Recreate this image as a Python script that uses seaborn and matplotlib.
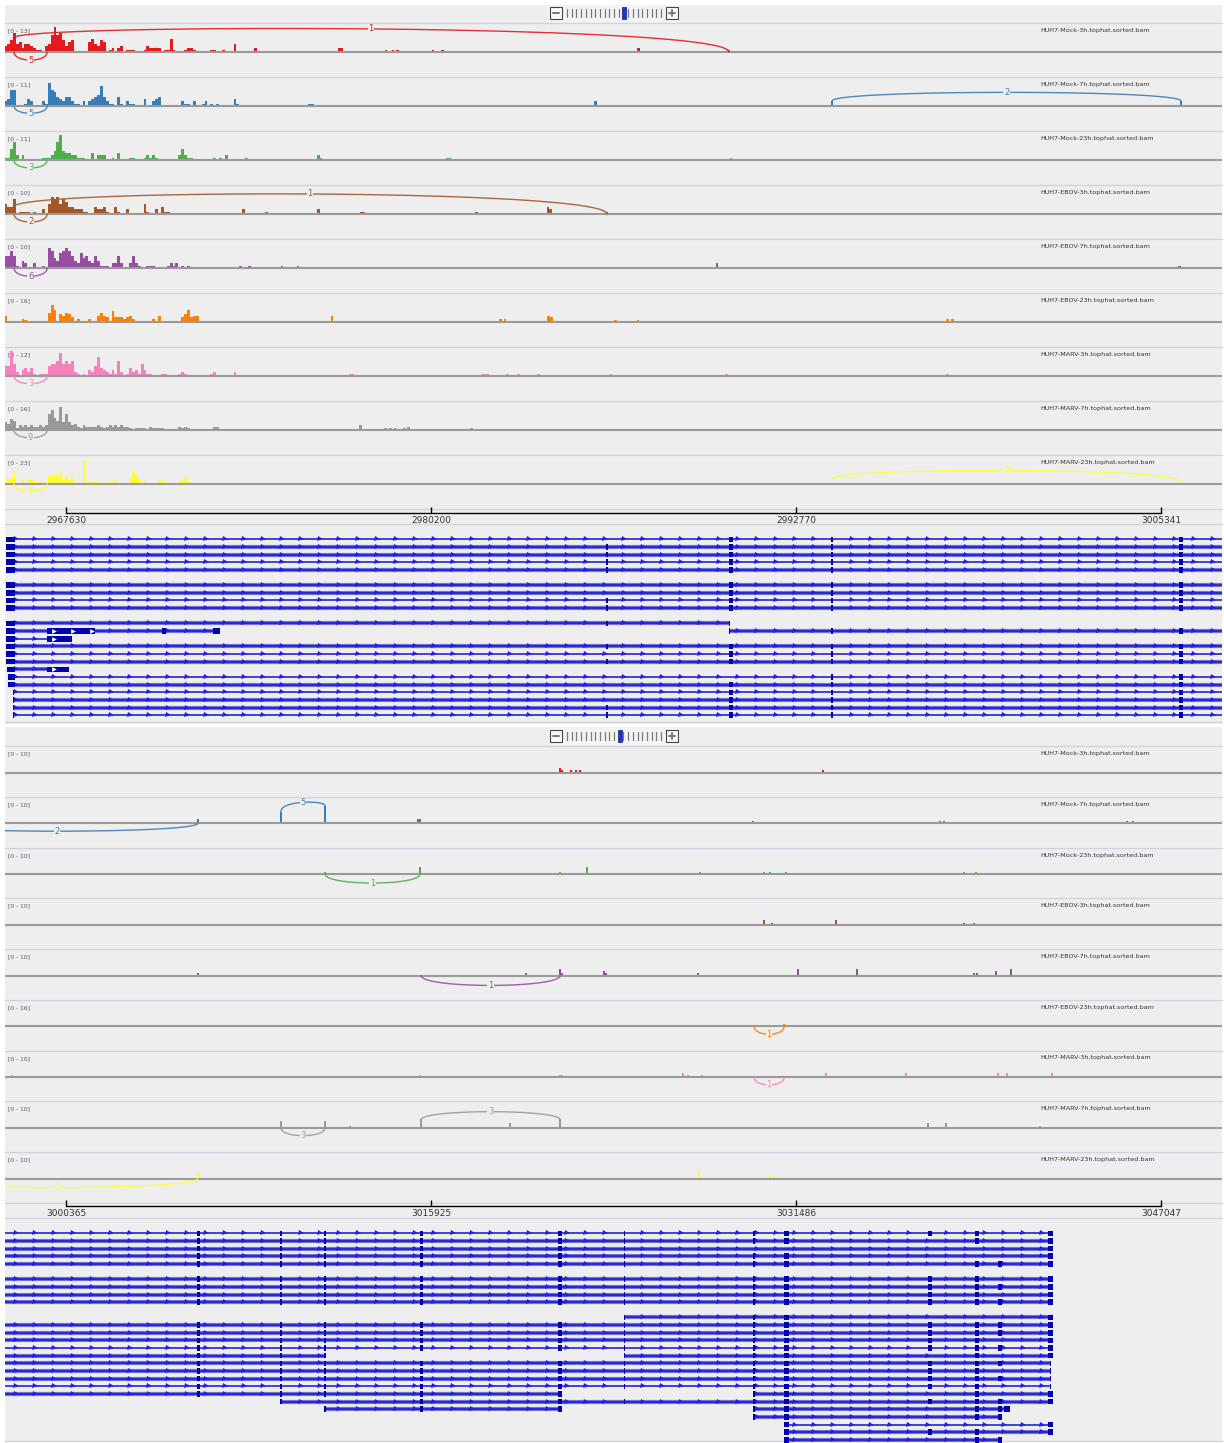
"""
Sashimi / couverture RNA-seq sur deux fenetres genomiques (vue type IGV)
"""
import numpy as np
import pandas as pd
import matplotlib
matplotlib.use("Agg")
import matplotlib.pyplot as plt
from matplotlib.patches import Rectangle
import seaborn as sns

sns.set_theme(style="white")
plt.rcParams["font.family"] = ["DejaVu Sans"]

# ----------------------------------------------------------
# 1) Donnees
# ----------------------------------------------------------
samples = ["HUH7-Mock-3h", "HUH7-Mock-7h", "HUH7-Mock-23h",
           "HUH7-EBOV-3h", "HUH7-EBOV-7h", "HUH7-EBOV-23h",
           "HUH7-MARV-3h", "HUH7-MARV-7h", "HUH7-MARV-23h"]
track_colors = ["#e41a1c", "#377eb8", "#4daf4a", "#a65628", "#984ea3",
                "#ff7f00", "#f781bf", "#999999", "#ffff33"]

top_ranges = [13, 11, 11, 10, 10, 16, 12, 16, 23]
bot_ranges = [10, 10, 10, 10, 10, 16, 10, 10, 10]

# fenetres (kb)
top_view = (2965.529, 3007.441)
bot_view = (2997.764, 3049.648)
top_ticks = [2967630, 2980200, 2992770, 3005341]
bot_ticks = [3000365, 3015925, 3031486, 3047047]

# couverture dense fenetre haute : bins de 0.1 kb a partir de 2965.5 kb
top_bin_start = 2965.5
top_bin_kb = 0.1
cov_mock3h = [3, 4, 6, 10, 4, 5, 2, 4, 4, 3, 2, 1, 1, 0, 3, 4, 9, 13, 9, 10,
              6, 3, 5, 6, 0, 0, 0, 0, 0, 5, 7, 4, 3, 6, 5, 0, 1, 2, 0, 2,
              3, 0, 1, 1, 1, 0, 0, 0, 1, 3, 2, 2, 2, 2, 0, 1, 1, 7, 1, 0,
              0, 0, 1, 2, 2, 1, 0, 0, 0, 0, 0, 1, 1, 0, 0, 1, 0, 0, 0, 4,
              0, 0, 0, 0, 0]
cov_mock7h = [2, 3, 7, 7, 0, 0, 0, 1, 3, 2, 0, 0, 0, 2, 1, 10, 7, 6, 4, 3,
              2, 4, 4, 2, 1, 1, 0, 2, 0, 2, 3, 4, 5, 9, 4, 2, 1, 1, 0, 4,
              1, 0, 2, 1, 1, 0, 0, 0, 3, 0, 0, 2, 3, 4, 0, 0, 0, 0, 0, 0,
              0, 2, 1, 1, 0, 2, 0, 0, 1, 2, 0, 1, 0, 1, 0, 0, 0, 0, 0, 3,
              1, 0, 0, 0, 0]
cov_mock23h = [1, 1, 5, 8, 2, 0, 2, 0, 0, 0, 0, 0, 0, 1, 1, 1, 2, 4, 8, 11,
               4, 3, 3, 2, 2, 1, 1, 1, 0, 0, 3, 0, 2, 2, 2, 0, 0, 1, 0, 3,
               0, 0, 0, 1, 1, 0, 0, 0, 1, 2, 1, 2, 1, 0, 0, 0, 0, 0, 0, 0,
               2, 5, 2, 1, 1, 0, 0, 0, 0, 0, 0, 0, 1, 0, 1, 0, 2, 0, 0, 0,
               0, 0, 0, 1, 0]
cov_ebov3h = [4, 3, 3, 6, 0, 1, 1, 1, 1, 0, 1, 0, 0, 2, 0, 4, 7, 6, 7, 4,
              6, 5, 3, 3, 2, 2, 2, 1, 1, 0, 0, 3, 2, 2, 3, 1, 0, 0, 3, 1,
              0, 0, 2, 0, 0, 0, 0, 0, 4, 1, 0, 0, 2, 0, 3, 1, 1, 0, 0, 0,
              0, 0, 0, 0, 0, 0, 0, 0, 0, 0, 0, 0, 0, 0, 0, 0, 0, 0, 0, 0,
              0, 0, 2, 0, 0]
cov_ebov7h = [5, 5, 7, 5, 1, 0, 3, 2, 0, 0, 2, 0, 0, 1, 0, 8, 7, 4, 3, 6,
              7, 8, 7, 5, 3, 2, 6, 4, 5, 3, 2, 5, 3, 1, 1, 1, 0, 2, 2, 5,
              2, 0, 0, 2, 5, 2, 1, 0, 0, 1, 1, 1, 0, 0, 0, 0, 1, 2, 1, 2,
              0, 1, 0, 1, 0, 0, 0, 0, 0, 0, 0, 0, 0, 0, 0, 0, 0, 0, 0, 0,
              0, 1, 0, 0, 1]
cov_ebov23h = [4, 0, 0, 0, 0, 0, 2, 1, 0, 0, 0, 0, 0, 0, 0, 6, 11, 8, 0, 5,
               4, 6, 5, 3, 0, 2, 0, 0, 0, 2, 0, 0, 4, 6, 4, 3, 0, 7, 3, 3,
               3, 2, 3, 4, 2, 0, 0, 0, 0, 0, 0, 2, 0, 4, 0, 0, 0, 0, 0, 0,
               0, 3, 5, 8, 3, 4, 4, 0, 0, 0, 0, 0, 0, 0, 0, 0, 0, 0, 0, 0,
               0, 0, 0, 0, 0]
cov_marv3h = [5, 5, 12, 6, 2, 0, 3, 4, 2, 4, 1, 0, 1, 1, 1, 5, 6, 6, 7, 11,
              6, 7, 6, 7, 2, 1, 0, 1, 0, 3, 2, 5, 9, 4, 3, 2, 1, 3, 1, 7,
              2, 0, 1, 4, 2, 3, 1, 6, 3, 1, 1, 0, 0, 0, 1, 1, 0, 0, 0, 0,
              1, 2, 1, 0, 0, 0, 0, 0, 0, 0, 0, 1, 2, 0, 0, 0, 0, 0, 0, 2,
              0, 0, 0, 0, 0]
cov_marv7h = [5, 4, 7, 6, 1, 3, 2, 3, 2, 3, 2, 2, 3, 2, 3, 10, 13, 8, 6, 15,
              5, 10, 5, 3, 4, 2, 1, 3, 2, 2, 2, 2, 3, 2, 1, 2, 3, 2, 3, 2,
              3, 2, 2, 1, 0, 1, 1, 1, 1, 0, 2, 1, 1, 1, 1, 0, 0, 0, 0, 0,
              2, 1, 2, 1, 0, 0, 0, 0, 0, 0, 0, 0, 2, 2, 0, 0, 0, 0, 0, 0,
              0, 0, 0, 0, 0]
cov_marv23h = [5, 5, 6, 12, 0, 0, 4, 0, 4, 5, 3, 2, 3, 1, 0, 8, 7, 9, 7, 11,
               5, 8, 4, 6, 1, 2, 1, 23, 1, 2, 3, 2, 2, 1, 1, 2, 1, 2, 3, 1,
               0, 0, 0, 5, 12, 8, 5, 0, 3, 0, 0, 0, 0, 3, 5, 2, 1, 0, 1, 1,
               3, 3, 6, 2, 1, 0, 1, 0, 0, 0, 0, 0, 0, 0, 1, 0, 1, 0, 0, 0,
               0, 0, 0, 0, 1]

# barres isolees fenetre haute (position kb, profondeur)
sp_top_mock3h = [(2974.17, 2), (2977.03, 2), (2977.13, 2), (2978.65, 1), (2978.89, 1),
                 (2979.06, 1), (2980.27, 1), (2980.61, 1), (2987.36, 2), (2990.45, 1)]
sp_top_mock7h = [(2976.03, 1), (2976.13, 1), (2985.85, 2), (2994.01, 2), (3006.03, 2)]
sp_top_mock23h = [(2976.31, 2), (2976.41, 1), (2980.75, 1), (2980.85, 1), (2990.53, 1)]
sp_top_ebov3h = [(2974.55, 1), (2976.34, 2), (2977.79, 1), (2977.89, 1), (2981.78, 1),
                 (2984.23, 3), (2984.33, 2), (2986.26, 1)]
sp_top_ebov7h = [(2975.07, 1), (2975.62, 1), (2990.05, 2), (3005.99, 1)]
sp_top_ebov23h = [(2976.79, 4), (2982.58, 2), (2982.75, 2), (2984.26, 4), (2984.36, 3),
                  (2986.54, 1), (2987.33, 1), (2998.00, 2), (2998.17, 2)]
sp_top_marv3h = [(2977.41, 1), (2977.51, 1), (2981.96, 1), (2982.06, 1), (2982.16, 1),
                 (2982.85, 1), (2983.20, 1), (2983.89, 1), (2986.40, 1), (2990.39, 1),
                 (2998.00, 1)]
sp_top_marv7h = [(2977.76, 3), (2978.62, 1), (2978.79, 1), (2978.96, 1), (2979.30, 1),
                 (2979.44, 2), (2981.61, 1)]
sp_top_marv23h = [(2975.17, 1), (2975.86, 1), (2979.13, 1), (2983.95, 1), (2986.95, 1),
                  (2994.01, 1)]

# barres isolees fenetre basse
sp_bot_mock3h = [(3021.43, 2), (3021.51, 1), (3021.89, 1), (3022.11, 1), (3022.28, 1),
                 (3032.64, 1)]
sp_bot_mock7h = [(3005.99, 2), (3009.53, 5), (3011.41, 8), (3015.37, 2), (3015.46, 2),
                 (3029.65, 1), (3037.63, 1), (3037.80, 1), (3045.60, 1), (3045.85, 1)]
sp_bot_mock23h = [(3011.41, 1), (3015.46, 3), (3021.43, 1), (3022.58, 3), (3027.39, 1),
                  (3030.12, 1), (3030.38, 1), (3031.06, 1), (3038.65, 1), (3039.16, 1)]
sp_bot_ebov3h = [(3030.12, 2), (3030.46, 1), (3033.19, 2), (3038.65, 1), (3039.07, 1)]
sp_bot_ebov7h = [(3005.99, 1), (3019.98, 1), (3021.43, 3), (3021.51, 1), (3023.30, 2),
                 (3023.39, 1), (3027.31, 1), (3031.57, 3), (3034.09, 3), (3039.07, 1),
                 (3039.20, 1), (3040.01, 2), (3040.65, 3)]
sp_bot_ebov23h = [(2998.06, 1), (2998.23, 1), (3030.98, 2)]
sp_bot_marv3h = [(2998.06, 1), (3015.46, 1), (3021.43, 1), (3021.51, 1), (3026.67, 2),
                 (3026.88, 1), (3027.48, 1), (3032.77, 2), (3036.18, 2), (3040.10, 2),
                 (3040.48, 2), (3042.40, 2)]
sp_bot_marv7h = [(3009.53, 3), (3011.41, 3), (3012.47, 1), (3015.50, 4), (3019.29, 2),
                 (3021.43, 4), (3037.11, 2), (3037.88, 2), (3041.89, 1)]
sp_bot_marv23h = [(3005.99, 3), (3027.35, 3), (3030.38, 1), (3030.55, 1)]

# jonctions : (piste, debut kb, fin kb, nb lectures, h debut, h fin, sommet)
# sommet negatif = arc sous la ligne de base
top_junctions = [
    (0, 2965.81, 2990.46, "1", 7.3, 0, 12),
    (0, 2965.84, 2966.98, "5", 0, 0, -4.2),
    (1, 2965.84, 2966.98, "5", 0, 0, -3.2),
    (1, 2994.01, 3006.03, "2", 2.2, 2.2, 6.0),
    (2, 2965.84, 2966.98, "3", 0, 0, -3.5),
    (3, 2965.81, 2986.26, "1", 2.8, 0, 8),
    (3, 2965.84, 2966.98, "2", 0, 0, -3.2),
    (4, 2965.84, 2966.98, "6", 0, 0, -3.3),
    (6, 2965.84, 2966.98, "3", 0, 0, -3.7),
    (7, 2965.84, 2966.98, "9", 0, 0, -5.0),
    (8, 2965.84, 2966.98, "8", 0, 0, -6.7),
    (8, 2994.01, 3006.03, "2", 4.6, 2.0, 12.5),
]
bot_junctions = [
    (1, 2993.97, 3005.99, "2", 0, 0, -3.6),
    (1, 3009.53, 3011.41, "5", 5.4, 8, 9.5),
    (2, 3011.41, 3015.46, "1", 0, 0, -4.1),
    (4, 3015.50, 3021.43, "1", 0, 0, -4.5),
    (5, 3029.70, 3030.98, "1", 0, 0, -5.8),
    (6, 3029.70, 3030.98, "1", 0, 0, -3.6),
    (7, 3009.53, 3011.41, "3", 0, 0, -3.6),
    (7, 3015.50, 3021.43, "3", 3.6, 3.6, 7.3),
    (8, 2993.97, 3005.99, "2", 0, 0, -4.1),
]

# exons (kb)
top_exons = {
    "T1": (2965.56, 2965.87), "T1b": (2965.60, 2965.87), "T1c": (2965.63, 2965.87),
    "T1d": (2965.80, 2965.84), "T2": (2966.98, 2968.63), "T2b": (2966.98, 2967.84),
    "T2c": (2966.98, 2967.73), "T3": (2970.94, 2971.07), "T4": (2972.69, 2972.93),
    "T5": (2986.21, 2986.31), "T6": (2990.46, 2990.60), "T6b": (2990.46, 2990.50),
    "T7": (2993.99, 2994.06), "T8": (3005.96, 3006.10),
}
bot_exons = {
    "B1": (3005.93, 3006.06), "B2": (3009.50, 3009.57), "B3": (3011.38, 3011.44),
    "B4": (3015.44, 3015.57), "B5": (3021.36, 3021.53), "B6": (3024.14, 3024.20),
    "B7": (3029.67, 3029.73), "B8": (3030.96, 3031.17), "B9": (3037.11, 3037.28),
    "B10": (3039.11, 3039.28), "B11": (3040.09, 3040.26), "B12": (3040.35, 3040.60),
    "B13": (3042.30, 3042.34), "B14": (3042.25, 3042.46),
}

# transcrits : (ligne, debut kb, fin kb, exons)
T_FULL = ["T1", "T6", "T7", "T8"]
T_FULL5 = ["T1", "T5", "T6", "T7", "T8"]
top_transcripts = [
    (0, 2965.56, 3008.0, T_FULL), (1, 2965.56, 3008.0, T_FULL5),
    (2, 2965.56, 3008.0, T_FULL5), (3, 2965.56, 3008.0, T_FULL5),
    (4, 2965.56, 3008.0, T_FULL5), (6, 2965.56, 3008.0, T_FULL),
    (7, 2965.56, 3008.0, T_FULL), (8, 2965.56, 3008.0, T_FULL5),
    (9, 2965.56, 3008.0, T_FULL5), (11, 2965.56, 2990.50, ["T1", "T5", "T6b"]),
    (12, 2965.56, 2972.93, ["T1", "T2", "T3", "T4"]),
    (12, 2990.46, 3008.0, ["T6b", "T7", "T8"]),
    (13, 2965.56, 2967.84, ["T1", "T2b"]), (14, 2965.56, 3008.0, T_FULL5),
    (15, 2965.56, 3008.0, T_FULL), (16, 2965.56, 3008.0, T_FULL5),
    (17, 2965.60, 2967.73, ["T1b", "T2c"]),
    (18, 2965.63, 3008.0, ["T1c", "T7", "T8"]),
    (19, 2965.63, 3008.0, ["T1c", "T6", "T7", "T8"]),
    (20, 2965.80, 3008.0, ["T1d", "T6", "T7", "T8"]),
    (21, 2965.80, 3008.0, ["T1d", "T6", "T7", "T8"]),
    (22, 2965.80, 3008.0, ["T1d", "T5", "T6", "T7", "T8"]),
    (23, 2965.80, 3008.0, ["T1d", "T5", "T6", "T7", "T8"]),
]

B_LEFT = ["B1", "B2", "B3", "B4", "B5", "B6"]
bot_transcripts = [
    (0, 2997.0, 3042.46, B_LEFT + ["B7", "B8", "B9", "B10", "B14"]),
    (1, 2997.0, 3042.46, B_LEFT + ["B7", "B8", "B10", "B14"]),
    (2, 2997.0, 3042.46, B_LEFT + ["B14"]),
    (3, 2997.0, 3042.46, B_LEFT + ["B7", "B8", "B14"]),
    (4, 2997.0, 3042.46, B_LEFT + ["B7", "B8", "B10", "B11", "B14"]),
    (6, 2997.0, 3042.46, B_LEFT + ["B7", "B8", "B9", "B10", "B14"]),
    (7, 2997.0, 3042.46, B_LEFT + ["B7", "B8", "B9", "B10", "B11", "B14"]),
    (8, 2997.0, 3042.46, B_LEFT + ["B7", "B8", "B9", "B10", "B14"]),
    (9, 2997.0, 3042.46, B_LEFT + ["B7", "B8", "B9", "B10", "B11", "B14"]),
    (11, 3024.14, 3042.46, ["B6", "B7", "B8", "B14"]),
    (12, 2997.0, 3042.46, B_LEFT + ["B7", "B8", "B9", "B10", "B11", "B14"]),
    (13, 2997.0, 3042.46, B_LEFT + ["B7", "B8", "B9", "B10", "B11", "B14"]),
    (14, 2997.0, 3042.46, B_LEFT + ["B7", "B8", "B9", "B10", "B14"]),
    (15, 2997.0, 3042.46, B_LEFT + ["B7", "B8", "B9", "B10", "B11", "B14"]),
    (16, 2997.0, 3011.44, ["B1", "B2", "B3"]),
    (16, 3024.14, 3042.46, ["B6", "B7", "B8", "B10", "B14"]),
    (17, 2997.0, 3042.34, B_LEFT + ["B7", "B8", "B9", "B10", "B11", "B13"]),
    (18, 2997.0, 3042.34, B_LEFT + ["B7", "B8", "B9", "B10", "B13"]),
    (19, 2997.0, 3042.34, B_LEFT + ["B7", "B8", "B9", "B10", "B11", "B13"]),
    (20, 2997.0, 3042.34, B_LEFT + ["B7", "B8", "B9", "B10", "B13"]),
    (21, 2997.0, 3021.53, ["B1", "B2", "B3", "B4", "B5"]),
    (21, 3029.67, 3042.46, ["B7", "B8", "B10", "B14"]),
    (22, 3009.50, 3042.46, ["B2", "B4", "B5", "B6", "B7", "B8", "B9", "B10", "B11", "B14"]),
    (23, 3011.38, 3021.53, ["B3", "B4", "B5"]),
    (23, 3029.67, 3040.60, ["B7", "B8", "B10", "B11", "B12"]),
    (24, 3029.67, 3040.26, ["B7", "B8", "B10", "B11"]),
    (25, 3030.96, 3042.46, ["B8", "B14"]),
    (26, 3030.96, 3042.46, ["B8", "B9", "B10", "B14"]),
    (27, 3030.98, 3040.26, ["B8", "B10", "B11"]),
]

top_dense = [cov_mock3h, cov_mock7h, cov_mock23h, cov_ebov3h, cov_ebov7h,
             cov_ebov23h, cov_marv3h, cov_marv7h, cov_marv23h]
top_sparse = [sp_top_mock3h, sp_top_mock7h, sp_top_mock23h, sp_top_ebov3h,
              sp_top_ebov7h, sp_top_ebov23h, sp_top_marv3h, sp_top_marv7h,
              sp_top_marv23h]
bot_sparse = [sp_bot_mock3h, sp_bot_mock7h, sp_bot_mock23h, sp_bot_ebov3h,
              sp_bot_ebov7h, sp_bot_ebov23h, sp_bot_marv3h, sp_bot_marv7h,
              sp_bot_marv23h]

# ----------------------------------------------------------
# 2) Mise en page (pixels)
# ----------------------------------------------------------
W, H = 1224, 1443
BG = "#eeeeee"
SEP = "#d2d2dc"
EXON = "#0000b2"

fig = plt.figure(figsize=(W / 100, H / 100), dpi=100)
fig.patch.set_facecolor("white")


def px_axes(x0, y0, x1, y1):
    ax = fig.add_axes([x0 / W, 1 - y1 / H, (x1 - x0) / W, (y1 - y0) / H])
    ax.patch.set_visible(False)
    return ax


bg = px_axes(0, 0, W, H)
bg.set_xlim(0, W)
bg.set_ylim(H, 0)
bg.axis("off")
bg.add_patch(Rectangle((5, 5), 1217, 719, facecolor=BG, edgecolor="none"))
bg.add_patch(Rectangle((5, 727), 1217, 714, facecolor=BG, edgecolor="none"))


def draw_widget(yc, slider_x):
    bg.add_patch(Rectangle((548, yc - 8), 132, 18, facecolor="#f3f3f3", edgecolor="none"))
    for bx in (550, 666):
        bg.add_patch(Rectangle((bx, yc - 6), 12, 12, facecolor="#f8f8f8",
                               edgecolor="#444444", lw=0.8))
        bg.plot([bx + 3, bx + 9], [yc, yc], color="#777777", lw=1.4)
    bg.plot([672, 672], [yc - 3, yc + 3], color="#777777", lw=1.4)
    for k in range(21):
        x = 567 + 4.7 * k
        if abs(x - slider_x) < 2.5:
            continue
        bg.plot([x, x], [yc - 4, yc + 4], color="#7a7a7a", lw=0.9)
    bg.add_patch(Rectangle((slider_x - 2, yc - 6), 4, 12, facecolor="#1535d5",
                           edgecolor="#0a1a80", lw=0.5))


def bezier(a, b, h0, h1, peak):
    c = (8 * peak - h0 - h1) / 6
    t = np.linspace(0, 1, 80)
    x = (1 - t) ** 3 * a + 3 * (1 - t) ** 2 * t * a + 3 * (1 - t) * t ** 2 * b + t ** 3 * b
    y = (1 - t) ** 3 * h0 + 3 * (1 - t) ** 2 * t * c + 3 * (1 - t) * t ** 2 * c + t ** 3 * h1
    return x, y


def draw_panel(view, y_head, track_y0, track_h, base_off, data_h, ranges,
               dense, sparse, bar_w, junctions, ruler_y, ticks, gene_box,
               transcripts, exons, dark_rows, widget_slider):
    kb_px = (view[1] - view[0]) / 1217.0
    draw_widget(y_head, widget_slider)

    # separateurs
    for i in range(10):
        y = track_y0 + track_h * i
        bg.plot([5, 1222], [y, y], color=SEP, lw=1.0)
    bg.plot([5, 1222], [gene_box[0], gene_box[0]], color=SEP, lw=1.0)
    bg.plot([5, 1222], [gene_box[1] - 2, gene_box[1] - 2], color=SEP, lw=1.0)

    for i in range(9):
        y_top = track_y0 + track_h * i
        color = track_colors[i]
        vmax = ranges[i]
        ax = px_axes(5, y_top, 1222, y_top + track_h)
        # couverture dense
        if dense is not None:
            vals = np.array(dense[i], dtype=float)
            edges = top_bin_start + np.arange(len(vals) + 1) * top_bin_kb
            df = pd.DataFrame({"pos": edges[:-1] + top_bin_kb / 2, "depth": vals})
            sns.histplot(data=df, x="pos", weights="depth", bins=edges.tolist(),
                         color=color, alpha=1, linewidth=0, element="bars", ax=ax)
        xs = [p for p, h in sparse[i]]
        hs = [h for p, h in sparse[i]]
        ax.bar(xs, hs, width=bar_w, color=color, linewidth=0)
        ax.axhline(0, color="#9a9a9a", lw=1.5, zorder=3)

        for (k, a, b, lab, h0, h1, peak) in junctions:
            if k != i:
                continue
            jx, jy = bezier(a, b, h0, h1, peak)
            ax.plot(jx, jy, color=color, lw=1.0, alpha=0.9, zorder=4)
            ax.text((a + b) / 2, peak, lab, ha="center", va="center", fontsize=6,
                    color=color, zorder=5,
                    bbox=dict(boxstyle="square,pad=0.08", fc=BG, ec="none"))

        ax.set_xlim(view)
        ax.set_ylim(-(track_h - base_off) / data_h * vmax, base_off / data_h * vmax)
        ax.axis("off")

        bg.text(8, y_top + 8, "[0 - %d]" % vmax, fontsize=4.3, color="#555555",
                ha="left", va="center")
        bg.text(1040, y_top + 7.5, samples[i] + ".tophat.sorted.bam", fontsize=4.6,
                color="#333333", ha="left", va="center")

    # regle
    rax = px_axes(5, ruler_y - 8, 1222, ruler_y)
    rax.set_xlim(view)
    rax.set_ylim(0, 1)
    for s in ("left", "right", "top"):
        rax.spines[s].set_visible(False)
    tk = [t / 1000 for t in ticks]
    rax.spines["bottom"].set_bounds(tk[0], tk[-1])
    rax.spines["bottom"].set_color("black")
    rax.spines["bottom"].set_linewidth(1.0)
    rax.set_xticks(tk)
    rax.set_xticklabels([str(t) for t in ticks])
    rax.set_yticks([])
    rax.tick_params(axis="x", direction="in", length=4, width=1, colors="black",
                    labelsize=6.5, labelcolor="#333333", pad=2, bottom=True)

    # transcrits
    gy0, gy1 = gene_box
    row0 = gy0 + 15.3
    sp = 7.65
    gax = px_axes(5, gy0, 1222, gy1)
    gax.set_xlim(view)
    gax.set_ylim((gy1 - row0) / sp, (gy0 - row0) / sp)
    gax.axis("off")
    spacing = 19 * kb_px
    chev_all = np.arange(view[0] + 0.6 * spacing, view[1], spacing)
    for (row, s, e, names) in transcripts:
        if row not in dark_rows:
            gax.hlines(row, s, e, color="#7373d6", lw=3.0, zorder=1)
        gax.hlines(row, s, e, color="#1414cc", lw=1.1, zorder=2)
        segs = [(exons[n][0], exons[n][1] - exons[n][0]) for n in names]
        gax.broken_barh(segs, (row - 0.36, 0.72), facecolor=EXON, edgecolor="none", zorder=3)
        chev = chev_all[(chev_all > s) & (chev_all < e)]
        inside = np.zeros(chev.shape, dtype=bool)
        for n in names:
            x0, x1 = exons[n]
            inside |= (chev > x0 - 0.5 * kb_px) & (chev < x1 + 0.5 * kb_px)
        big = np.zeros(chev.shape, dtype=bool)
        for n in names:
            x0, x1 = exons[n]
            if x1 - x0 > 0.5:
                big |= (chev > x0 + 2 * kb_px) & (chev < x1 - 2 * kb_px)
        gax.plot(chev[~inside], np.full((~inside).sum(), row), ls="none", marker=">",
                 ms=3.6, color="#2020ee", mew=0, zorder=2.5)
        gax.plot(chev[big], np.full(big.sum(), row), ls="none", marker=">",
                 ms=3.4, color="white", mew=0, zorder=4)


# ----------------------------------------------------------
# 3) Deux fenetres
# ----------------------------------------------------------
draw_panel(top_view, 13, 23, 54, 29, 25, top_ranges, top_dense, top_sparse, 0.1,
           top_junctions, 513, top_ticks, (524, 724), top_transcripts, top_exons,
           {0, 3, 8, 13, 15, 18, 20, 23}, 624)
draw_panel(bot_view, 736, 746, 50.75, 26.5, 22, bot_ranges, None, bot_sparse, 0.09,
           bot_junctions, 1206, bot_ticks, (1218, 1443), bot_transcripts, bot_exons,
           {0, 15, 20, 25}, 620)

fig.savefig("out.png", dpi=100)
plt.close(fig)
